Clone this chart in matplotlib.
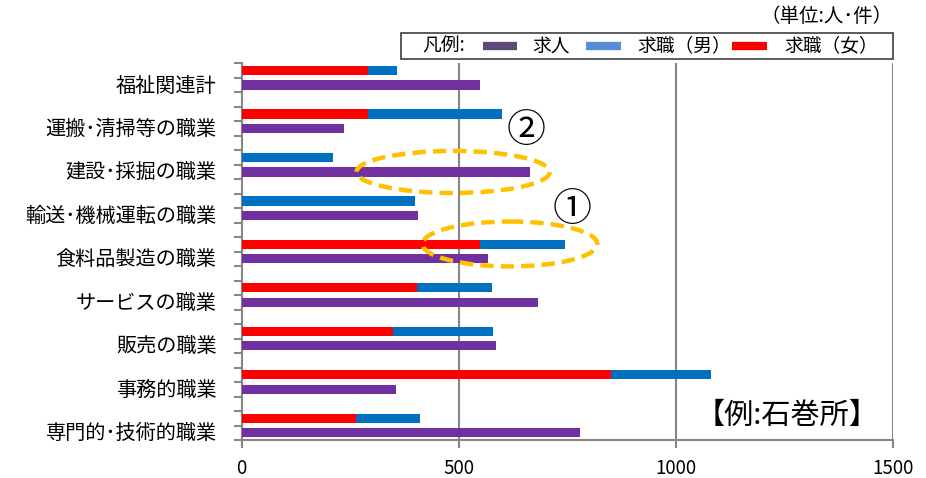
import matplotlib
matplotlib.use("Agg")
import matplotlib.pyplot as plt
from matplotlib.patches import Rectangle, Ellipse
from matplotlib.lines import Line2D

plt.rcParams["font.family"] = ["Noto Sans CJK JP", "DejaVu Sans"]

categories = ["福祉関連計", "運搬･清掃等の職業", "建設･採掘の職業", "輸送･機械運転の職業",
              "食料品製造の職業", "サービスの職業", "販売の職業", "事務的職業", "専門的･技術的職業"]
kyujin = [548, 235, 665, 407, 567, 682, 586, 355, 780]
kyushoku_f = [292, 292, 0, 0, 550, 403, 348, 851, 264]
kyushoku_m = [65, 307, 210, 400, 194, 174, 230, 231, 146]
xticks = [0, 500, 1000, 1500]

W, H = 926, 478
c_purple, c_blue, c_red = "#7030A0", "#0070C0", "#FF0000"
grid_c = "#868686"


def fx(px):
    return px / W


def fy(py):
    return 1 - py / H


fig = plt.figure(figsize=(W / 100, H / 100), dpi=100)
ax = fig.add_axes([fx(241.7), fy(440), fx(892.7) - fx(241.7), fy(63.3) - fy(440)])

# each category uses 3 slots: 求職 / 求人 / gap
n = len(categories)
y_job = [3 * i + 0.5 for i in range(n)]
y_pers = [3 * i + 1.5 for i in range(n)]
bh = 0.63
ax.barh(y_job, kyushoku_f, height=bh, color=c_red, zorder=3)
ax.barh(y_job, kyushoku_m, left=kyushoku_f, height=bh, color=c_blue, zorder=3)
ax.barh(y_pers, kyujin, height=bh, color=c_purple, zorder=3)

ax.set_xlim(0, 1500)
ax.set_ylim(3 * n - 1, 0)
ax.set_xticks(xticks)
ax.set_xticklabels([str(v) for v in xticks], fontsize=13.5)
ax.set_yticks([3 * i + 1.4 for i in range(n)])
ax.set_yticklabels(categories, fontsize=14.5)
ax.set_yticks(range(3 * n), minor=True)
ax.tick_params(axis="y", which="major", length=0, pad=18)
ax.tick_params(axis="y", which="minor", length=6, width=1.5, color=grid_c)
ax.tick_params(axis="x", length=6, width=1.5, color=grid_c, pad=7)
for s in ["top", "right"]:
    ax.spines[s].set_visible(False)
for s in ["left", "bottom"]:
    ax.spines[s].set_color(grid_c)
    ax.spines[s].set_linewidth(1.5)
for v in xticks[1:]:
    ax.axvline(v, color=grid_c, lw=1.5, zorder=1)

# annotations
ax.add_patch(Ellipse((487, 7.5), 445, 2.9, fill=False, ec="#FFC000", lw=3.2,
                     ls=(0, (3, 1.6)), zorder=4))
ax.add_patch(Ellipse((618, 12.47), 403, 3.1, fill=False, ec="#FFC000", lw=3.2,
                     ls=(0, (3, 1.6)), zorder=4))
fig.text(fx(526), fy(131), "②", fontsize=28, ha="center", va="center")
fig.text(fx(572), fy(210), "①", fontsize=28, ha="center", va="center")
fig.text(fx(787), fy(416), "【例:石巻所】", fontsize=21, ha="center", va="center")

# unit + legend box
fig.text(fx(893), fy(16), "（単位:人･件）", fontsize=14, ha="right", va="center")
fig.patches.append(Rectangle((fx(401), fy(59)), fx(893) - fx(401), fy(33) - fy(59),
                             transform=fig.transFigure, fc="white", ec="#404040", lw=1.2,
                             zorder=5))
ly = fy(46)
fig.text(fx(422), ly, "凡例:", fontsize=13.5, va="center", zorder=6)
for x0, x1, c, lab, tx in [(483, 517, "#604A7B", "求人", 532),
                           (586, 621, "#558ED5", "求職（男）", 637),
                           (732, 767, c_red, "求職（女）", 784)]:
    fig.lines.append(Line2D([fx(x0), fx(x1)], [ly, ly], transform=fig.transFigure,
                            color=c, lw=6, solid_capstyle="butt", zorder=6))
    fig.text(fx(tx), ly, lab, fontsize=13.5, va="center", zorder=6)

fig.savefig("out.png", dpi=100)
